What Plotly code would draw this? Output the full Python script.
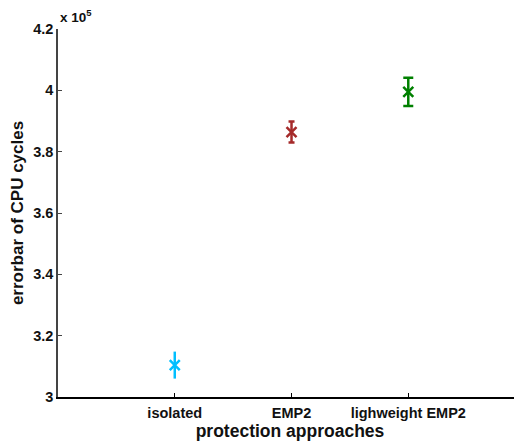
import plotly.graph_objects as go

categories = ["isolated", "EMP2", "lighweight EMP2"]
x_pos = [1, 2, 3]
means = [310400, 386400, 399500]
errors = [4400, 3400, 4600]
colors = ["#00BFFF", "#A52A2A", "#008000"]
cap_widths = [0, 3, 5]
y_tick_vals = [300000, 320000, 340000, 360000, 380000, 400000, 420000]
y_tick_text = ["3", "3.2", "3.4", "3.6", "3.8", "4", "4.2"]

fig = go.Figure()
for i in range(3):
    fig.add_trace(go.Scatter(
        x=[x_pos[i]], y=[means[i]], mode="markers",
        marker=dict(symbol="x-thin-open", size=10, color=colors[i],
                    line=dict(width=2.5, color=colors[i])),
        error_y=dict(type="data", array=[errors[i]], color=colors[i],
                     thickness=2.5, width=cap_widths[i], visible=True),
        showlegend=False, name=categories[i]))

fnt = "Liberation Sans, Arial, sans-serif"
fig.update_layout(
    width=514, height=434,
    margin=dict(l=50, r=0, t=21, b=45),
    paper_bgcolor="white", plot_bgcolor="white",
    font=dict(family=fnt, color="black"),
    xaxis=dict(range=[0, 3.974], tickvals=x_pos, ticktext=categories,
               ticks="inside", ticklen=4, tickcolor="black", showline=True,
               linecolor="black", linewidth=1.5, showgrid=False, zeroline=False,
               automargin=False, ticklabelstandoff=2,
               tickfont=dict(size=14.5, family=fnt, weight="bold", color="#111"),
               title=dict(text="protection approaches",
                          font=dict(size=17.5, family=fnt, weight="bold", color="#111"), standoff=2)),
    yaxis=dict(range=[300000, 420000], tickvals=y_tick_vals, ticktext=y_tick_text,
               ticks="inside", ticklen=4, tickcolor="#444", showline=True,
               linecolor="#444", linewidth=1.5, showgrid=False, zeroline=False,
               automargin=False,
               tickfont=dict(size=14.5, family=fnt, weight="bold", color="#111"),
               title=dict(text="errorbar of CPU cycles",
                          font=dict(size=17, family=fnt, weight="bold", color="#111"), standoff=6)),
    annotations=[dict(text="x 10<sup>5</sup>", xref="paper", yref="paper",
                      x=0, y=1, xanchor="left", yanchor="bottom", yshift=2,
                      showarrow=False, font=dict(size=13.5, family=fnt, weight="bold", color="#111"))],
)
fig.write_html("out.html")
